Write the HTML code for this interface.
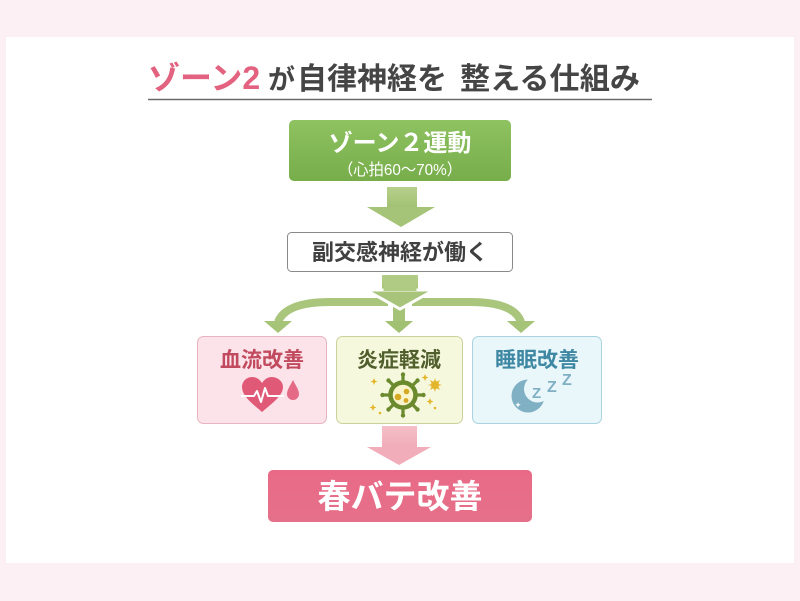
<!DOCTYPE html>
<html><head><meta charset="utf-8"><style>
html,body{margin:0;padding:0;background:#fdf0f5;}
svg{display:block;}
text{font-family:"Liberation Sans","Noto Sans CJK JP",sans-serif;}
</style></head><body>
<svg width="800" height="601" viewBox="0 0 800 601" xmlns="http://www.w3.org/2000/svg">
<defs>
<linearGradient id="gG" x1="0" y1="0" x2="0" y2="1"><stop offset="0" stop-color="#8fc261"/><stop offset="1" stop-color="#77ad4a"/></linearGradient>
<linearGradient id="gP" x1="0" y1="0" x2="0" y2="1"><stop offset="0" stop-color="#e96a86"/><stop offset="1" stop-color="#e5708a"/></linearGradient>
<linearGradient id="gA" x1="0" y1="0" x2="0" y2="1"><stop offset="0" stop-color="#b7d08c"/><stop offset="1" stop-color="#a2c172"/></linearGradient>
<linearGradient id="gPA" x1="0" y1="0" x2="0" y2="1"><stop offset="0" stop-color="#f4c0c8"/><stop offset="1" stop-color="#f0aab8"/></linearGradient>
</defs>
<rect x="0" y="0" width="800" height="601" fill="#fdf0f5"/>
<rect x="6" y="37" width="788" height="526" fill="#ffffff"/>

<!-- Title -->
<text x="148" y="89" font-size="32" font-weight="bold" fill="#e2627f">ゾーン2</text>
<text x="268" y="89" font-size="27" font-weight="bold" fill="#454545">が</text>
<text x="297" y="89" font-size="30" font-weight="bold" fill="#454545" textLength="150" lengthAdjust="spacingAndGlyphs">自律神経を</text>
<text x="460" y="89" font-size="30" font-weight="bold" fill="#454545" textLength="180" lengthAdjust="spacingAndGlyphs">整える仕組み</text>
<line x1="148" y1="99.5" x2="652" y2="99.5" stroke="#6a6a6a" stroke-width="1.5"/>

<!-- Green box -->
<rect x="289" y="120" width="222" height="61" rx="5" fill="url(#gG)"/>
<text x="400" y="151" font-size="24" font-weight="bold" fill="#ffffff" text-anchor="middle">ゾーン２運動</text>
<text x="400" y="175" font-size="16" fill="#ffffff" text-anchor="middle" textLength="124" lengthAdjust="spacingAndGlyphs">（心拍60〜70%）</text>

<!-- Arrow 1 -->
<rect x="387" y="187" width="30" height="21" fill="url(#gA)"/>
<polygon points="367,207 435,207 401,227" fill="#a6c478"/>

<!-- Box 2 -->
<rect x="287.5" y="232.5" width="225" height="39" rx="4" fill="#ffffff" stroke="#8a8a8a" stroke-width="1"/>
<text x="400" y="260" font-size="22" font-weight="bold" fill="#404040" text-anchor="middle">副交感神経が働く</text>

<!-- Branch curves -->
<path d="M388 302 L330 302 Q286 302 278 322" fill="none" stroke="#aac57c" stroke-width="8"/>
<polygon points="264,321 292,321 278,333" fill="#a6c478"/>
<path d="M412 302 L470 302 Q514 302 521 322" fill="none" stroke="#aac57c" stroke-width="8"/>
<polygon points="507,321 535,321 521,333" fill="#a6c478"/>
<!-- center small arrow -->
<rect x="393" y="305" width="12" height="18" fill="#a6c478"/>
<polygon points="385,321 413,321 399,333" fill="#a2c072"/>
<!-- main arrow 2 -->
<rect x="382" y="275" width="36" height="17" fill="url(#gA)"/>
<polygon points="366,290 434,290 400,309" fill="#a8c47a" stroke="#ffffff" stroke-width="3" stroke-linejoin="miter"/>
<rect x="383.5" y="275" width="33" height="16" fill="#b0cb84"/>

<!-- Box: 血流改善 -->
<rect x="197.5" y="336.5" width="129" height="87" rx="6" fill="#fbe3e9" stroke="#e9b3bf" stroke-width="1"/>
<text x="262" y="367" font-size="21" font-weight="bold" fill="#c24a5e" text-anchor="middle">血流改善</text>
<path d="M262,412 C250,402 242,395 242,387 C242,381 247,377 252,377 C257,377 260,380 262,383 C264,380 267,377 272,377 C277,377 283,381 283,387 C283,395 274,402 262,412 Z" fill="#e05a78"/>
<polyline points="241,396 254,396 257,391 261,402 265,388 268,396 284,396" fill="none" stroke="#ffffff" stroke-width="2" stroke-linejoin="round"/>
<path d="M293,380 C296,386 299,390 299,394 A6,6 0 0 1 287,394 C287,390 290,386 293,380 Z" fill="#e46a86"/>

<!-- Box: 炎症軽減 -->
<rect x="336.5" y="336.5" width="126" height="87" rx="6" fill="#f6f8dd" stroke="#c9d49c" stroke-width="1"/>
<text x="399" y="367" font-size="21" font-weight="bold" fill="#505f2c" text-anchor="middle">炎症軽減</text>
<g stroke="#6b8a2e" stroke-width="3.2" stroke-linecap="round">
<line x1="403" y1="381" x2="403" y2="375"/>
<line x1="403" y1="409" x2="403" y2="415"/>
<line x1="389" y1="395" x2="383" y2="395"/>
<line x1="417" y1="395" x2="423" y2="395"/>
<line x1="393" y1="385" x2="389" y2="381"/>
<line x1="413" y1="385" x2="417" y2="381"/>
<line x1="393" y1="405" x2="389" y2="409"/>
<line x1="413" y1="405" x2="417" y2="409"/>
</g>
<g fill="#6b8a2e">
<circle cx="403" cy="374.5" r="2.2"/><circle cx="403" cy="415.5" r="2.2"/>
<circle cx="382.5" cy="395" r="2.2"/><circle cx="423.5" cy="395" r="2.2"/>
<circle cx="388.5" cy="380.5" r="2.2"/><circle cx="417.5" cy="380.5" r="2.2"/>
<circle cx="388.5" cy="409.5" r="2.2"/><circle cx="417.5" cy="409.5" r="2.2"/>
</g>
<circle cx="403" cy="395" r="12.5" fill="#f8f4cc" stroke="#6b8a2e" stroke-width="4.5"/>
<circle cx="398" cy="397" r="3.3" fill="#d6a923"/>
<circle cx="406.5" cy="391.5" r="2.8" fill="#d6a923"/>
<circle cx="406" cy="400.5" r="2.4" fill="#d6a923"/>
<g fill="#e3b52a">
<circle cx="435" cy="385" r="4"/>
<path d="M435,378 L436.2,382 L440,380 L438,384 L442,385 L438,386 L440,390 L436.2,388 L435,392 L433.8,388 L430,390 L432,386 L428,385 L432,384 L430,380 L433.8,382 Z"/>
<path d="M374,378 l1,2.5 l2.5,1 l-2.5,1 l-1,2.5 l-1,-2.5 l-2.5,-1 l2.5,-1 Z"/>
<path d="M425,374 l1,2.5 l2.5,1 l-2.5,1 l-1,2.5 l-1,-2.5 l-2.5,-1 l2.5,-1 Z"/>
<path d="M373,404 l1,2.5 l2.5,1 l-2.5,1 l-1,2.5 l-1,-2.5 l-2.5,-1 l2.5,-1 Z"/>
<path d="M430,398 l1,2.5 l2.5,1 l-2.5,1 l-1,2.5 l-1,-2.5 l-2.5,-1 l2.5,-1 Z"/>
<circle cx="380" cy="413" r="1.3"/>
<circle cx="435" cy="408" r="1.3"/>
</g>

<!-- Box: 睡眠改善 -->
<rect x="472.5" y="336.5" width="129" height="87" rx="6" fill="#e9f6fa" stroke="#a9d3df" stroke-width="1"/>
<text x="537" y="367" font-size="21" font-weight="bold" fill="#3f88a3" text-anchor="middle">睡眠改善</text>
<circle cx="528" cy="396" r="16.5" fill="#7fb0c3"/>
<circle cx="537.5" cy="389" r="13.5" fill="#e9f6fa"/>
<path d="M518,402 l0.8,2 l2,0.8 l-2,0.8 l-0.8,2 l-0.8,-2 l-2,-0.8 l2,-0.8 Z" fill="#ffffff"/>
<text x="532" y="398" font-size="15" font-weight="bold" fill="#7fb0c3">Z</text>
<text x="547" y="392" font-size="16" font-weight="bold" fill="#7fb0c3">Z</text>
<text x="562" y="385" font-size="16" font-weight="bold" fill="#7fb0c3">Z</text>

<!-- Pink arrow -->
<rect x="382" y="426" width="35" height="23" fill="url(#gPA)"/>
<polygon points="367,447 431,447 399,465" fill="#f1adba"/>

<!-- Pink box -->
<rect x="268" y="470" width="264" height="52" rx="5" fill="url(#gP)"/>
<text x="400" y="508" font-size="33" font-weight="bold" fill="#ffffff" text-anchor="middle">春バテ改善</text>
</svg>
</body></html>
